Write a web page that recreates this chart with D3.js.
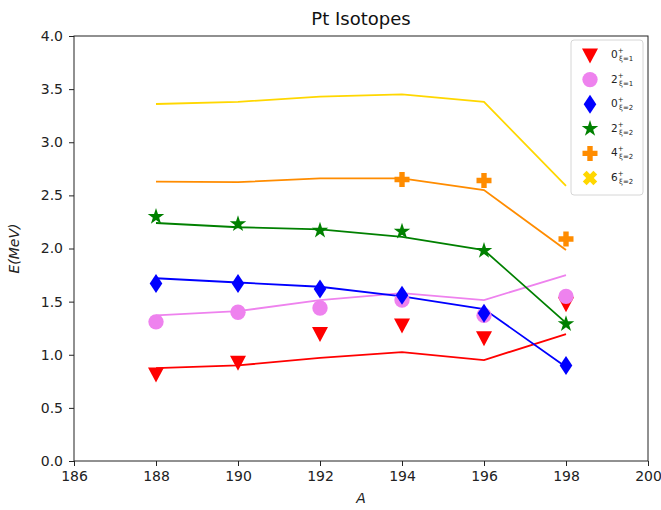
<!DOCTYPE html>
<html><head><meta charset="utf-8">
<script src="https://cdn.jsdelivr.net/npm/d3@7"></script>
<style>body{margin:0;background:#fff;} text{font-family:"DejaVu Sans",sans-serif;}</style>
</head><body><svg id="c" width="661" height="510"></svg>
<script>
const A = [188, 190, 192, 194, 196, 198];
const xTicks = [186, 188, 190, 192, 194, 196, 198, 200];
const yTicks = [0.0, 0.5, 1.0, 1.5, 2.0, 2.5, 3.0, 3.5, 4.0];
// theory (lines)
const th0x1 = [0.875, 0.90, 0.97, 1.025, 0.95, 1.195];
const th2x1 = [1.37, 1.41, 1.515, 1.58, 1.515, 1.75];
const th0x2 = [1.72, 1.68, 1.64, 1.55, 1.43, 0.885];
const th2x2 = [2.24, 2.20, 2.18, 2.11, 1.985, 1.30];
const th4x2 = [2.63, 2.625, 2.66, 2.66, 2.55, 1.985];
const th6x2 = [3.36, 3.38, 3.43, 3.45, 3.38, 2.59];
// experiment (markers)
const ex0x1 = [0.82, 0.93, 1.20, 1.28, 1.16, 1.48];
const ex2x1 = [1.31, 1.40, 1.44, 1.515, 1.37, 1.55];
const ex0x2 = [1.67, 1.67, 1.62, 1.56, 1.39, 0.90];
const ex2x2 = [2.30, 2.23, 2.17, 2.16, 1.98, 1.29];
const ex4x2A = [194, 196, 198];
const ex4x2 = [2.65, 2.64, 2.09];
const ex6x2A = [];
const ex6x2 = [];
const labels = [["0","1"],["2","1"],["0","2"],["2","2"],["4","2"],["6","2"]];
const colors = ["#ff0000", "#ee82ee", "#0000ff", "#008000", "#ff8c00", "#ffd700"];
const shapes = ["tri", "circle", "diamond", "star", "plus", "x"];

const svg = d3.select("#c");
const m = {l:74, r:648, t:36, b:461};
const x = d3.scaleLinear().domain([186, 200]).range([m.l, m.r]);
const y = d3.scaleLinear().domain([0, 4]).range([m.b, m.t]);

const plusPath = "M-2.7,-7.5L2.7,-7.5L2.7,-2.7L7.5,-2.7L7.5,2.7L2.7,2.7L2.7,7.5L-2.7,7.5L-2.7,2.7L-7.5,2.7L-7.5,-2.7L-2.7,-2.7Z";
function markerPath(s){
  switch(s){
    case "tri": return "M-8,-6.5L8,-6.5L0,8.5Z";
    case "circle": return d3.symbol(d3.symbolCircle, 185)();
    case "diamond": return "M0,-9.5L6.3,0L0,9.5L-6.3,0Z";
    case "star": return d3.symbol(d3.symbolStar, 85)();
    case "plus": return plusPath;
    case "x": return plusPath;
  }
}
function markerRot(s){ return s === "x" ? " rotate(45)" : ""; }

// axes frame
svg.append("rect").attr("x", m.l).attr("y", m.t).attr("width", m.r-m.l).attr("height", m.b-m.t)
  .attr("fill", "none").attr("stroke", "#222").attr("stroke-width", 1);

const xa = svg.append("g").attr("transform", `translate(0,${m.b})`)
  .call(d3.axisBottom(x).tickValues(xTicks).tickFormat(d3.format("d")).tickSize(5).tickPadding(5));
const ya = svg.append("g").attr("transform", `translate(${m.l},0)`)
  .call(d3.axisLeft(y).tickValues(yTicks).tickFormat(d3.format(".1f")).tickSize(5).tickPadding(6));
[xa, ya].forEach(g => {
  g.select(".domain").remove();
  g.selectAll("text").attr("font-size", 14).attr("fill", "#222").attr("font-family", "DejaVu Sans");
  g.selectAll("line").attr("stroke", "#222");
});

svg.append("text").attr("x", (m.l+m.r)/2).attr("y", 25).attr("text-anchor", "middle")
  .attr("font-size", 18).attr("fill", "#111").text("Pt Isotopes");
svg.append("text").attr("x", (m.l+m.r)/2).attr("y", 503).attr("text-anchor", "middle")
  .attr("font-size", 14).attr("font-style", "italic").attr("fill", "#222").text("A");
svg.append("text").attr("transform", `translate(19,${(m.t+m.b)/2}) rotate(-90)`).attr("text-anchor", "middle")
  .attr("font-size", 14).attr("font-style", "italic").attr("fill", "#222").text("E(MeV)");

const theory = [th0x1, th2x1, th0x2, th2x2, th4x2, th6x2];
const line = d3.line().x((d, i) => x(A[i])).y(d => y(d));
theory.forEach((t, k) => {
  svg.append("path").attr("d", line(t)).attr("fill", "none")
    .attr("stroke", colors[k]).attr("stroke-width", 1.8);
});

const exps = [
  [A, ex0x1], [A, ex2x1], [A, ex0x2], [A, ex2x2], [ex4x2A, ex4x2], [ex6x2A, ex6x2]
];
exps.forEach(([xs, ys], k) => {
  svg.append("g").selectAll("path").data(ys).join("path")
    .attr("d", markerPath(shapes[k]))
    .attr("transform", (d, i) => `translate(${x(xs[i])},${y(d)})${markerRot(shapes[k])}`)
    .attr("fill", colors[k]);
});

// legend
const lg = svg.append("g");
lg.append("rect").attr("x", 571).attr("y", 40).attr("width", 72).attr("height", 155).attr("rx", 3)
  .attr("fill", "#fff").attr("fill-opacity", 0.8).attr("stroke", "#d6d6d6");
labels.forEach((lb, k) => {
  const ry = 55 + k * 24.6;
  lg.append("path").attr("d", markerPath(shapes[k]))
    .attr("transform", `translate(590,${ry})${markerRot(shapes[k])}`).attr("fill", colors[k]);
  const t = lg.append("text").attr("x", 611).attr("y", ry + 3).attr("font-size", 10.5).attr("fill", "#222");
  t.append("tspan").text(lb[0]);
  t.append("tspan").attr("font-size", 7).attr("dy", -5).text("+");
  t.append("tspan").attr("font-size", 7).attr("dx", -4.5).attr("dy", 8).text("ξ=" + lb[1]);
});
</script></body></html>
